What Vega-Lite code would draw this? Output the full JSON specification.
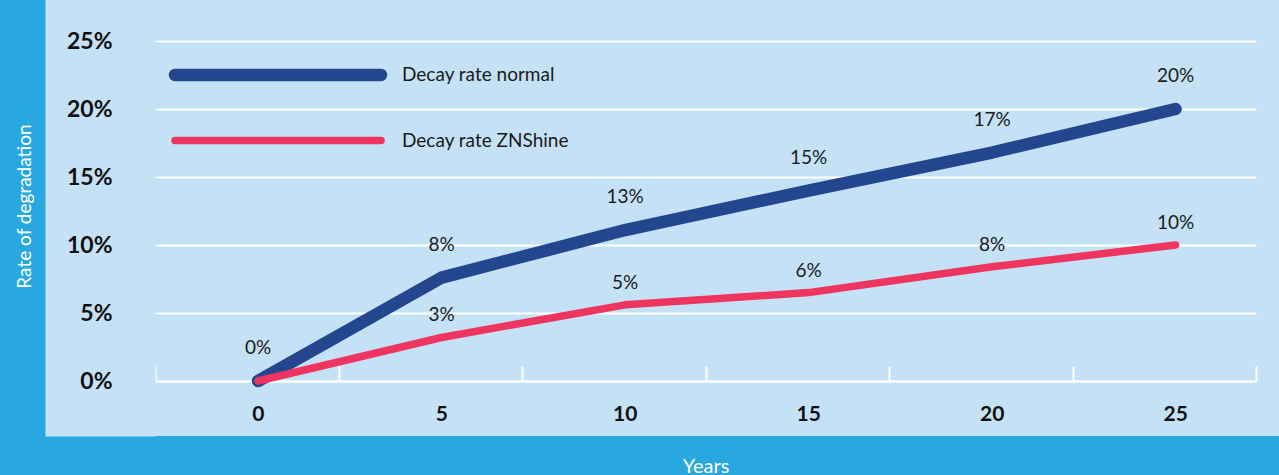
{
  "$schema": "https://vega.github.io/schema/vega-lite/v6.json",
  "width": 1101,
  "height": 340,
  "autosize": {"type": "none"},
  "padding": {"left": 155, "top": 41, "right": 23, "bottom": 94},
  "background": "#29a8e0",
  "config": {
    "view": {"fill": "#c5e1f5", "stroke": "#c5e1f5", "strokeWidth": 110},
    "font": "Lato",
    "axis": {"labelFont": "Lato", "titleFont": "Lato"},
    "legend": {"labelFont": "Lato"}
  },
  "data": {
    "values": [
      {"year": "0", "series": "Decay rate normal", "value": 0, "label": "0%"},
      {"year": "5", "series": "Decay rate normal", "value": 7.6, "label": "8%"},
      {"year": "10", "series": "Decay rate normal", "value": 11.1, "label": "13%"},
      {"year": "15", "series": "Decay rate normal", "value": 14.0, "label": "15%"},
      {"year": "20", "series": "Decay rate normal", "value": 16.8, "label": "17%"},
      {"year": "25", "series": "Decay rate normal", "value": 20.0, "label": "20%"},
      {"year": "0", "series": "Decay rate ZNShine", "value": 0, "label": null},
      {"year": "5", "series": "Decay rate ZNShine", "value": 3.2, "label": "3%"},
      {"year": "10", "series": "Decay rate ZNShine", "value": 5.6, "label": "5%"},
      {"year": "15", "series": "Decay rate ZNShine", "value": 6.5, "label": "6%"},
      {"year": "20", "series": "Decay rate ZNShine", "value": 8.4, "label": "8%"},
      {"year": "25", "series": "Decay rate ZNShine", "value": 10.0, "label": "10%"}
    ]
  },
  "resolve": {"axis": {"y": "independent"}},
  "layer": [
    {
      "mark": {"type": "line", "strokeCap": "round", "strokeJoin": "round"},
      "encoding": {
        "x": {
          "field": "year", "type": "ordinal", "sort": ["0", "5", "10", "15", "20", "25"],
          "bandPosition": 0.5616,
          "scale": {"type": "band", "paddingInner": 0, "paddingOuter": 0},
          "axis": {
            "title": "Years", "titleColor": "#ffffff", "titleFontSize": 20, "titleFontWeight": "normal",
            "titleY": 91, "titleBaseline": "alphabetic",
            "labelAngle": 0, "labelFontSize": 21, "labelFontWeight": "bold", "labelColor": "#111111",
            "labelOffset": 11, "labelPadding": 37, "labelBaseline": "top",
            "tickBand": "extent", "ticks": true, "tickSize": -15, "tickColor": "#ffffff", "tickWidth": 2,
            "domain": true, "domainColor": "#ffffff", "domainWidth": 2, "grid": false
          }
        },
        "y": {
          "field": "value", "type": "quantitative",
          "scale": {"domain": [0, 25], "nice": false},
          "axis": {
            "orient": "left", "offset": 55, "domain": true, "domainColor": "#c5e1f5", "domainWidth": 110,
            "domainCap": "square", "labels": false, "ticks": false, "grid": false, "title": null
          }
        },
        "color": {
          "field": "series", "type": "nominal",
          "scale": {"domain": ["Decay rate normal", "Decay rate ZNShine"], "range": ["#23468f", "#ee3560"]},
          "legend": {
            "title": null, "orient": "none", "legendX": 96, "legendY": 7, "padding": 0,
            "symbolType": "M-5,0H5", "symbolSize": 1697, "labelFontSize": 19, "labelColor": "#1a1a1a",
            "labelOffset": 97, "rowPadding": 16, "labelLimit": 400,
            "encode": {"symbols": {"update": {"strokeCap": {"value": "round"}}}}
          }
        },
        "strokeWidth": {
          "field": "series", "type": "nominal",
          "scale": {"domain": ["Decay rate normal", "Decay rate ZNShine"], "range": [12.5, 7.5]},
          "legend": {
            "title": null, "orient": "none", "legendX": 96, "legendY": 7, "padding": 0,
            "symbolType": "M-5,0H5", "symbolSize": 1697, "labelFontSize": 19, "labelColor": "#1a1a1a",
            "labelOffset": 97, "rowPadding": 16, "labelLimit": 400,
            "encode": {"symbols": {"update": {"strokeCap": {"value": "round"}}}}
          }
        }
      }
    },
    {
      "transform": [{"filter": "datum.series === 'Decay rate normal'"}],
      "mark": {"type": "text", "fontSize": 19, "color": "#1a1a1a", "dy": -33, "baseline": "middle"},
      "encoding": {
        "x": {"field": "year", "type": "ordinal", "sort": ["0", "5", "10", "15", "20", "25"], "bandPosition": 0.5616},
        "y": {
          "field": "value", "type": "quantitative",
          "axis": {
            "orient": "left", "values": [0, 5, 10, 15, 20, 25], "labelExpr": "datum.value + '%'",
            "labelFontSize": 23, "labelFontWeight": "bold", "labelColor": "#111111", "labelPadding": 43,
            "ticks": false, "tickSize": 0, "domain": false,
            "grid": true, "gridColor": "#ffffff", "gridWidth": 2,
            "title": "Rate of degradation", "titleColor": "#ffffff", "titleFontSize": 19, "titleFontWeight": "normal",
            "titleX": -121, "titleY": 165, "titleAngle": -90, "titleAlign": "center", "titleBaseline": "bottom"
          }
        },
        "text": {"field": "label"}
      }
    },
    {
      "transform": [{"filter": "datum.series === 'Decay rate ZNShine' && datum.label != null"}],
      "mark": {"type": "text", "fontSize": 19, "color": "#1a1a1a", "dy": -22, "baseline": "middle"},
      "encoding": {
        "x": {"field": "year", "type": "ordinal", "sort": ["0", "5", "10", "15", "20", "25"], "bandPosition": 0.5616},
        "y": {"field": "value", "type": "quantitative", "axis": null},
        "text": {"field": "label"}
      }
    }
  ]
}
